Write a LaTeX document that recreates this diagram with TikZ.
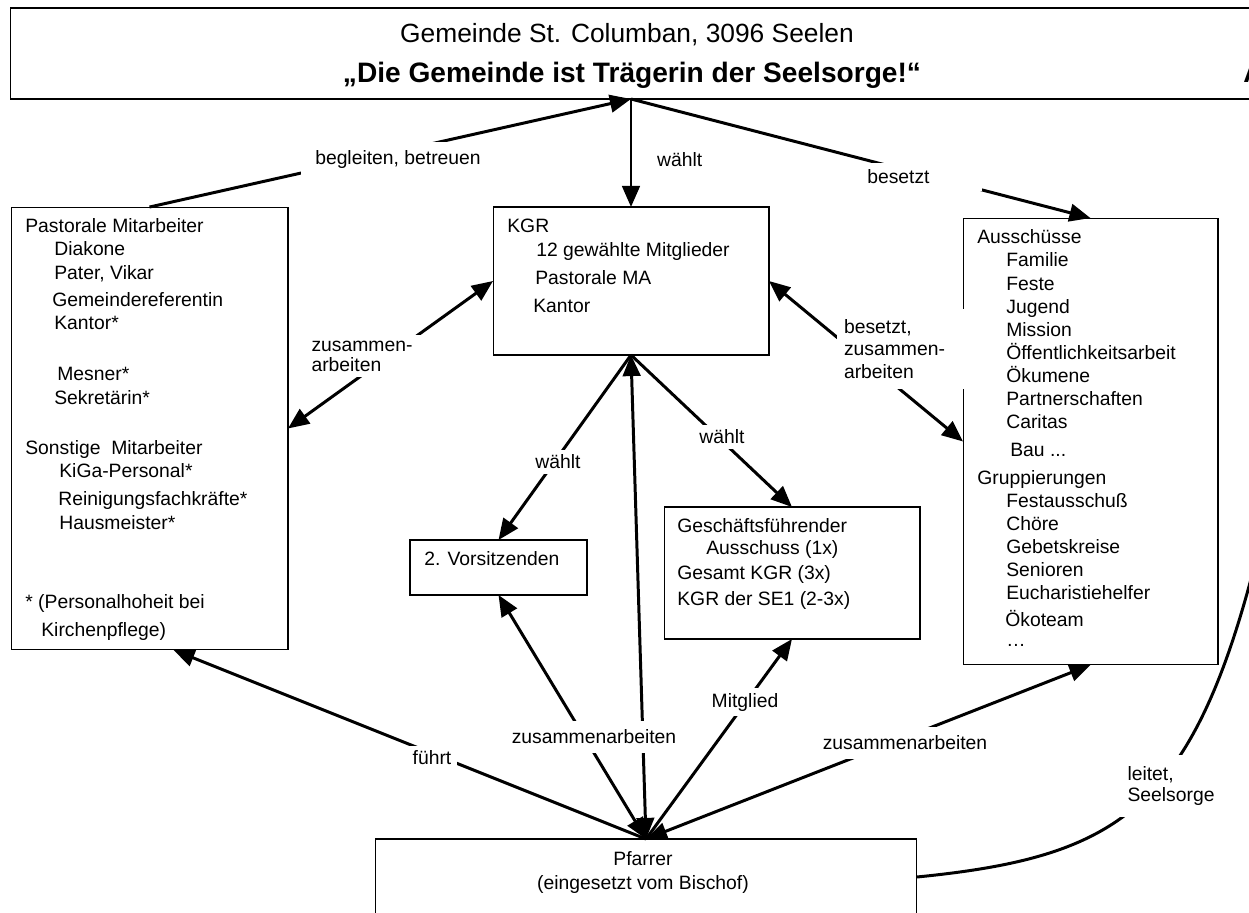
\documentclass[tikz,border=0pt]{standalone}
\usepackage{fontspec}
\setmainfont{Liberation Sans}
\usetikzlibrary{arrows.meta,calc}
\begin{document}
\begin{tikzpicture}[x=0.02cm,y=-0.02cm,
  box/.style={draw, line width=0.6pt, inner sep=0pt, outer sep=0pt},
  txt/.style={anchor=base west, inner sep=0pt, font=\fontsize{11}{13}\selectfont},
  lbl/.style={fill=white, inner sep=3pt, font=\fontsize{11}{13}\selectfont},
  conn/.style={line width=1.7pt, -{Triangle[length=12pt,width=10pt]}},
  dconn/.style={line width=1.7pt, {Triangle[length=12pt,width=10pt]}-{Triangle[length=12pt,width=10pt]}}]
\useasboundingbox (0,0) rectangle (1249,913);
\clip (0,0) rectangle (1249,913);
\fill[white] (0,0) rectangle (1249,913);

% boxes
\node[box, minimum width=24.84cm, minimum height=1.82cm] (top) at (631,53.5) {};
\node[box, minimum width=5.54cm, minimum height=8.86cm] (pm) at (149.5,428.5) {};
\node[box, minimum width=5.52cm, minimum height=2.96cm] (kgr) at (631,281) {};
\node[box, minimum width=5.10cm, minimum height=8.94cm] (aus) at (1090.5,441.5) {};
\node[box, minimum width=3.54cm, minimum height=1.10cm] (vors) at (498.5,567.5) {};
\node[box, minimum width=5.12cm, minimum height=2.64cm] (gf) at (792,573) {};
\node[box, minimum width=10.84cm, minimum height=1.52cm] (pf) at (646,877) {};

% title
\node[inner sep=0pt, font=\fontsize{15}{18}\selectfont] (t1) at (627,35) {Gemeinde St. Columban, 3096 Seelen};
\node[inner sep=0pt, font=\bfseries\fontsize{16}{18}\selectfont] (t2) at (632,75) {„Die Gemeinde ist Trägerin der Seelsorge!“};
\node[anchor=base west, inner sep=0pt, font=\bfseries\fontsize{16}{18}\selectfont] (t3) at (1243,82) {A};

% texts in boxes
\foreach \x/\y/\t [count=\n] in {
  25/225/{Pastorale Mitarbeiter}, 54/248/Diakone, 54/272/{Pater, Vikar},
  52/299/Gemeindereferentin, 54/322/Kantor*, 57/373/Mesner*, 54/397/Sekretärin*,
  25/447/{Sonstige\ \ Mitarbeiter}, 59/470/KiGa-Personal*, 58/498/Reinigungsfachkräfte*,
  59/522/Hausmeister*, 25/601/{* (Personalhoheit bei}, 41/629/{Kirchenpflege)}}
  \node[txt] (pmt\n) at (\x,\y+7) {\t};

\foreach \x/\y/\t [count=\n] in {
  507/225/KGR, 536/249/{12 gewählte Mitglieder}, 535/277/{Pastorale MA}, 533/305/Kantor}
  \node[txt] (kgrt\n) at (\x,\y+7) {\t};

\foreach \x/\y/\t [count=\n] in {
  977/236/Ausschüsse, 1006/259/Familie, 1006/283/Feste, 1006/306/Jugend,
  1006/329/Mission, 1006/352/Öffentlichkeitsarbeit, 1006/375/Ökumene,
  1006/398/Partnerschaften, 1006/421/Caritas, 1010/449/{Bau ...},
  977/477/Gruppierungen, 1006/500/Festausschuß, 1006/523/Chöre,
  1006/546/Gebetskreise, 1006/569/Senioren, 1006/592/Eucharistiehelfer,
  1005/619/Ökoteam, 1006/639/…}
  \node[txt] (aust\n) at (\x,\y+7) {\t};

\node[txt] (vorst) at (424,565) {2. Vorsitzenden};

\foreach \x/\y/\t [count=\n] in {
  677/525/{Geschäftsführender}, 706/547/{Ausschuss (1x)}, 677/572/{Gesamt KGR (3x)},
  677/598/{KGR der SE1 (2-3x)}}
  \node[txt] (gft\n) at (\x,\y+7) {\t};

\node[anchor=base, inner sep=0pt, font=\fontsize{11}{13}\selectfont] (pft1) at (643,865) {Pfarrer};
\node[anchor=base, inner sep=0pt, font=\fontsize{11}{13}\selectfont] (pft2) at (643,889) {(eingesetzt vom Bischof)};

% connectors
\coordinate (lt) at (1256,560);
\draw[conn] (pm.north) -- (top.south);
\draw[conn] (top.south) -- (kgr.north);
\draw[conn] (top.south) -- (aus.north);
\draw[dconn] (pm.east) -- (kgr.west);
\draw[dconn] (kgr.east) -- (aus.west);
\draw[conn] (kgr.south) -- (vors.north);
\draw[conn] (kgr.south) -- (gf.north);
\draw[conn] (pf.north) -- ($(pm.south)+(24,0)$);
\draw[dconn] (pf.north) -- (vors.south);
\draw[dconn] (pf.north) -- (kgr.south);
\draw[conn] (pf.north) -- (gf.south);
\draw[dconn] (pf.north) -- (aus.south);
\draw[line width=1.7pt] (pf.east) .. controls (1118,857) and (1192,810) .. (lt);

% labels
\node[lbl, inner xsep=8pt, inner ysep=5pt] (l1) at (398,160) {begleiten, betreuen};
\node[lbl, anchor=west, inner sep=1pt] (l2) at (655,160) {wählt};
\node[lbl, anchor=west, text width=2.2cm, align=left, inner xsep=2.8pt, inner ysep=4pt] (l3) at (862,177) {besetzt};
\node[lbl, text width=2.1cm, align=left, font=\fontsize{11}{11.5}\selectfont] (l4) at (364,356) {zusammen-\\arbeiten};
\node[lbl, text width=2.36cm, align=left, inner xsep=4pt, inner ysep=6pt, font=\fontsize{11}{12.8}\selectfont] (l5) at (903,349) {besetzt,\\zusammen-\\arbeiten};
\node[lbl] (l6) at (558,462) {wählt};
\node[lbl] (l7) at (722,437) {wählt};
\node[lbl] (l8) at (432,758) {führt};
\node[lbl, inner ysep=5pt] (l9) at (594,737) {zusammenarbeiten};
\node[lbl] (l10) at (745,702) {Mitglied};
\node[lbl, inner ysep=5pt] (l11) at (905,743) {zusammenarbeiten};
\node[lbl, text width=1.9cm, align=left, inner sep=6pt, font=\fontsize{11}{12.5}\selectfont] (l12) at (1175,786) {leitet,\\Seelsorge};
\end{tikzpicture}
\end{document}
